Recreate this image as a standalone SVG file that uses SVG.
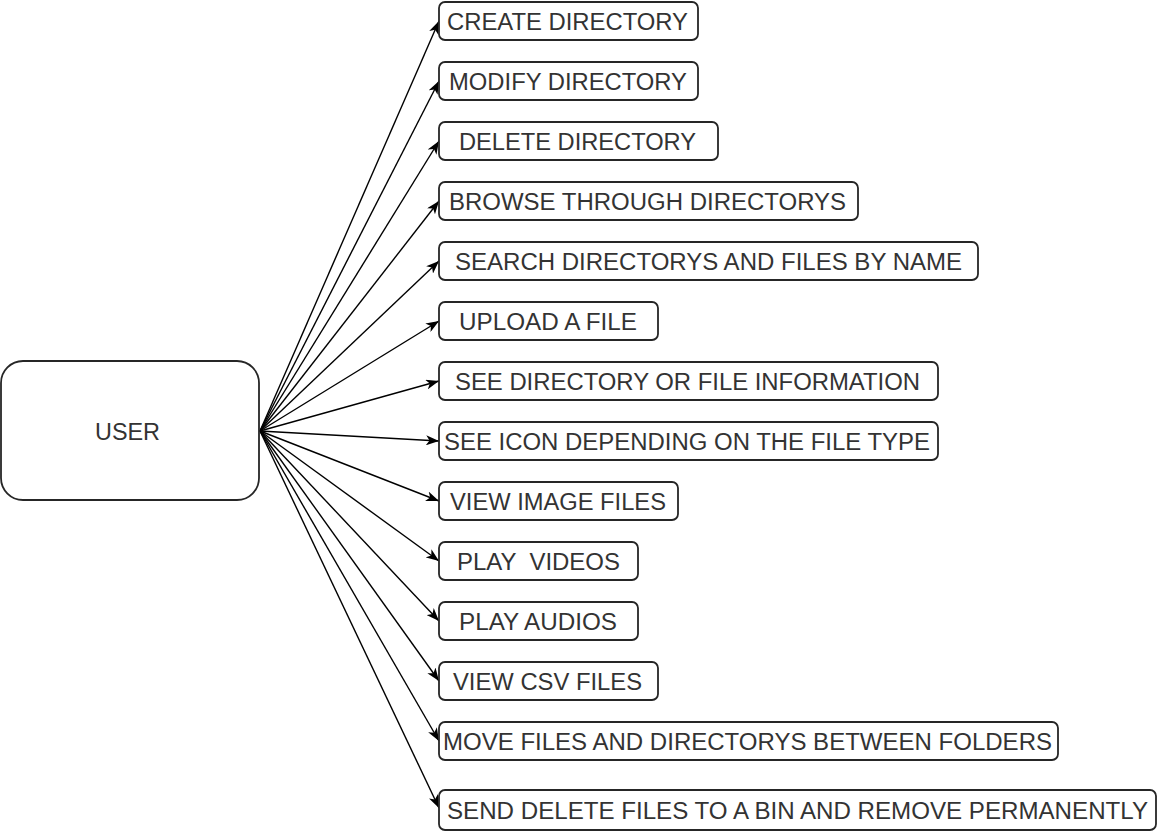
<svg xmlns="http://www.w3.org/2000/svg" width="1158" height="832" viewBox="0 0 1158 832">
<defs>
<marker id="arr" viewBox="0 0 13 10" refX="13" refY="5" markerWidth="13" markerHeight="10" markerUnits="userSpaceOnUse" orient="auto">
<path d="M0,0 L13,5 L0,10 L3.5,5 Z" fill="#000"/>
</marker>
</defs>
<style>
.box{fill:#fff;stroke:#262626;stroke-width:1.8}
.t{font-family:"Liberation Sans",Arial,sans-serif;font-size:23px;fill:#333;dominant-baseline:central}
.c{fill:none;stroke:#000;stroke-width:1.4;marker-end:url(#arr)}
</style>
<rect width="1158" height="832" fill="#fff"/>
<g id="connectors">
<line class="c" x1="260" y1="431" x2="439" y2="21"/>
<line class="c" x1="260" y1="431" x2="439" y2="81"/>
<line class="c" x1="260" y1="431" x2="439" y2="141"/>
<line class="c" x1="260" y1="431" x2="439" y2="201"/>
<line class="c" x1="260" y1="431" x2="439" y2="261"/>
<line class="c" x1="260" y1="431" x2="439" y2="321"/>
<line class="c" x1="260" y1="431" x2="439" y2="381"/>
<line class="c" x1="260" y1="431" x2="439" y2="441"/>
<line class="c" x1="260" y1="431" x2="439" y2="501"/>
<line class="c" x1="260" y1="431" x2="439" y2="561"/>
<line class="c" x1="260" y1="431" x2="439" y2="621"/>
<line class="c" x1="260" y1="431" x2="439" y2="681"/>
<line class="c" x1="260" y1="431" x2="439" y2="741"/>
<line class="c" x1="260" y1="431" x2="439" y2="808"/>
</g>
<g id="user"><rect class="box" x="1" y="361" width="258" height="139" rx="22"/><text class="t" x="95" y="431.5" textLength="65" lengthAdjust="spacingAndGlyphs">USER</text></g>
<g id="n1"><rect class="box" x="439" y="2" width="259" height="38" rx="6"/><text class="t" x="447" y="21.5" textLength="241" lengthAdjust="spacingAndGlyphs">CREATE DIRECTORY</text></g>
<g id="n2"><rect class="box" x="439" y="62" width="259" height="38" rx="6"/><text class="t" x="449" y="81.5" textLength="238" lengthAdjust="spacingAndGlyphs">MODIFY DIRECTORY</text></g>
<g id="n3"><rect class="box" x="439" y="122" width="279" height="38" rx="6"/><text class="t" x="459" y="141.5" textLength="237" lengthAdjust="spacingAndGlyphs">DELETE DIRECTORY</text></g>
<g id="n4"><rect class="box" x="439" y="182" width="419" height="38" rx="6"/><text class="t" x="449" y="201.5" textLength="397" lengthAdjust="spacingAndGlyphs">BROWSE THROUGH DIRECTORYS</text></g>
<g id="n5"><rect class="box" x="439" y="242" width="539" height="38" rx="6"/><text class="t" x="455" y="261.5" textLength="507" lengthAdjust="spacingAndGlyphs">SEARCH DIRECTORYS AND FILES BY NAME</text></g>
<g id="n6"><rect class="box" x="439" y="302" width="219" height="38" rx="6"/><text class="t" x="459" y="321.5" textLength="178" lengthAdjust="spacingAndGlyphs">UPLOAD A FILE</text></g>
<g id="n7"><rect class="box" x="439" y="362" width="499" height="38" rx="6"/><text class="t" x="455" y="381.5" textLength="465" lengthAdjust="spacingAndGlyphs">SEE DIRECTORY OR FILE INFORMATION</text></g>
<g id="n8"><rect class="box" x="439" y="422" width="499" height="38" rx="6"/><text class="t" x="444" y="441.5" textLength="486" lengthAdjust="spacingAndGlyphs">SEE ICON DEPENDING ON THE FILE TYPE</text></g>
<g id="n9"><rect class="box" x="439" y="482" width="239" height="38" rx="6"/><text class="t" x="450" y="501.5" textLength="216" lengthAdjust="spacingAndGlyphs">VIEW IMAGE FILES</text></g>
<g id="n10"><rect class="box" x="439" y="542" width="199" height="38" rx="6"/><text class="t" x="457" y="561.5" textLength="163" lengthAdjust="spacingAndGlyphs" xml:space="preserve">PLAY  VIDEOS</text></g>
<g id="n11"><rect class="box" x="439" y="602" width="199" height="38" rx="6"/><text class="t" x="459" y="621.5" textLength="158" lengthAdjust="spacingAndGlyphs">PLAY AUDIOS</text></g>
<g id="n12"><rect class="box" x="439" y="662" width="219" height="38" rx="6"/><text class="t" x="453" y="681.5" textLength="189" lengthAdjust="spacingAndGlyphs">VIEW CSV FILES</text></g>
<g id="n13"><rect class="box" x="439" y="722" width="619" height="38" rx="6"/><text class="t" x="443" y="741.5" textLength="609" lengthAdjust="spacingAndGlyphs">MOVE FILES AND DIRECTORYS BETWEEN FOLDERS</text></g>
<g id="n14"><rect class="box" x="439" y="790" width="717" height="40" rx="6"/><text class="t" x="447" y="810.5" textLength="701" lengthAdjust="spacingAndGlyphs">SEND DELETE FILES TO A BIN AND REMOVE PERMANENTLY</text></g>
</svg>
